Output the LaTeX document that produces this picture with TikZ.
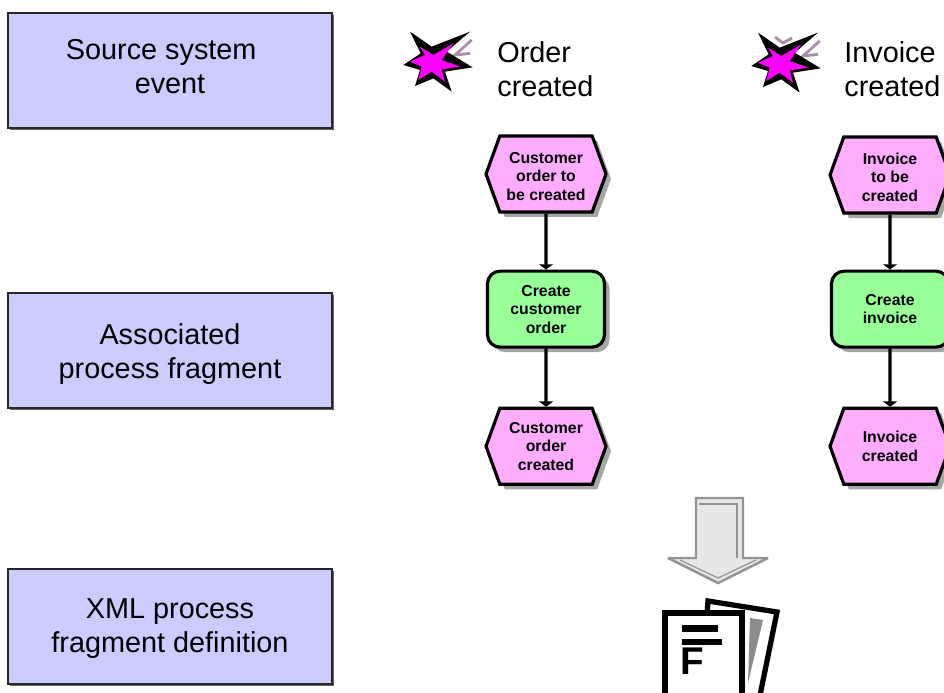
\documentclass[tikz,border=0pt]{standalone}
\usepackage{fontspec}
\setmainfont{Liberation Sans}
\usepackage{tikz}
\usetikzlibrary{arrows.meta}
\usetikzlibrary{positioning}
\usetikzlibrary{shadows}
\usetikzlibrary{shapes.symbols}

\definecolor{boxblue}{HTML}{CCCCFF}
\definecolor{eventpink}{HTML}{FFAEFF}
\definecolor{funcgreen}{HTML}{99FF99}
\definecolor{starmark}{HTML}{A88FA8}
\definecolor{starpink}{HTML}{FF00FF}
\definecolor{arrowfill}{HTML}{E6E8E8}

\tikzset{
  eventstar/.pic={
    \draw[starmark, line width=1.6pt] (.767,.4) -- (.433,.1) -- (.733,.133);
    \fill[black] (-.467,.567) -- (-.033,.267) -- (.733,.567) -- (.267,.167)
      -- (.787,-.147) -- (.233,-.233) -- (.367,-.633) -- (0,-.367)
      -- (-.367,-.52) -- (-.267,-.2) -- (-.6,-.1) -- (-.253,.133) -- cycle;
    \fill[starpink] (-.267,.267) -- (0,.1) -- (.4,.333) -- (.167,0)
      -- (.533,-.133) -- (.167,-.187) -- (.233,-.433) -- (-.033,-.233)
      -- (-.3,-.4) -- (-.233,-.133) -- (-.467,-.033) -- (-.167,.1) -- cycle;
  }
}

\begin{document}
\begin{tikzpicture}
    \tikzstyle{legend}=[draw=black!85, line width=1pt, fill=boxblue, minimum width=6.48cm,
      minimum height=2.3cm, align=center, font=\fontsize{16.4}{19.3}\selectfont,
      general shadow={fill=black!60, shadow xshift=.04cm, shadow yshift=-.04cm}]
    \tikzstyle{label}=[anchor=west, inner sep=0, align=left, font=\fontsize{16.4}{19.3}\selectfont]
    \tikzstyle{small}=[draw, line width=1.8pt, minimum height=1.52cm, align=center, inner sep=0,
      font=\fontsize{9}{10.5}\selectfont\bfseries,
      general shadow={fill=black!35, shadow xshift=.1cm, shadow yshift=-.1cm}]
    \tikzstyle{event}=[small, signal, signal to=east and west, signal pointer angle=140,
      minimum width=2.4cm, fill=eventpink]
    \tikzstyle{func}=[small, rounded corners=.25cm, minimum width=2.34cm, fill=funcgreen]
    \tikzstyle{flow}=[line width=1.8pt, -{Triangle[width=8pt,length=3pt]}]

    \useasboundingbox (0, 0) rectangle (18.88, -13.86);

    \node[legend, text depth=4.5pt] (source) at (3.4, -1.41) {Source system\hspace*{10pt}\\event};
    \node[legend, text height=35pt] (fragment) at (3.4, -7.01) {Associated\\process fragment};
    \node[legend, text height=33pt] (definition) at (3.4, -12.53) {XML process\\fragment definition};

    % left column
    \pic at (8.667, -1.2) {eventstar};
    \node[label] (orderlabel) at (9.94, -1.38) {Order\\created};
    \node[event, text height=30pt] (ordertodo) at (10.92, -3.48) {Customer\\order to\\be created};
    \node[func, below=1.12cm of ordertodo] (ordercreate) {Create\\customer\\order};
    \node[event, below=1.16cm of ordercreate] (orderdone) {Customer\\order\\created};
    \draw[flow] (ordertodo) -- (ordercreate);
    \draw[flow] (ordercreate) -- (orderdone);

    % right column
    \pic at (15.627, -1.22) {eventstar};
    \draw[starmark, line width=1.6pt] (15.5, -.74) -- (15.66, -.86) -- (15.84, -.76);
    \node[label] (invoicelabel) at (16.88, -1.38) {Invoice\\created};
    \node[event, text height=30pt] (invoicetodo) at (17.8, -3.5) {Invoice\\to be\\created};
    \node[func, below=1.1cm of invoicetodo] (invoicecreate) {Create\\invoice};
    \node[event, below=1.16cm of invoicecreate] (invoicedone) {Invoice\\created};
    \draw[flow] (invoicetodo) -- (invoicecreate);
    \draw[flow] (invoicecreate) -- (invoicedone);

    % block arrow
    \draw[black!42, line width=1.4pt, fill=arrowfill, miter limit=2] (13.92, -9.96) -- (14.86, -9.96) -- (14.86, -11.16)
      -- (15.36, -11.16) -- (14.36, -11.66) -- (13.36, -11.16) -- (13.92, -11.16) -- cycle;
    \draw[black!42, line width=.7pt] (13.98, -10.08) -- (14.74, -10.08) -- (14.74, -11.16);
    \draw[black!42, line width=.7pt] (13.6, -11.2) -- (14.36, -11.56) -- (15.12, -11.2);

    % document
    \draw[line width=3pt, fill=white] (14.16, -12.02) -- (15.54, -12.24) -- (15.14, -14.2) -- (14, -14.2) -- cycle;
    \fill[black!45] (15, -12.36) -- (15.26, -12.4) -- (14.96, -13.66) -- cycle;
    \draw[line width=3.8pt, fill=white] (13.3, -12.26) rectangle (14.84, -13.92);
    \fill (13.64, -12.49) rectangle (14.36, -12.63);
    \fill (13.64, -12.77) rectangle (14.44, -12.89);
    \node[anchor=base west, inner sep=0, font=\fontsize{22}{22}\selectfont\bfseries] (formula) at (13.6, -13.48) {F};
\end{tikzpicture}
\end{document}
